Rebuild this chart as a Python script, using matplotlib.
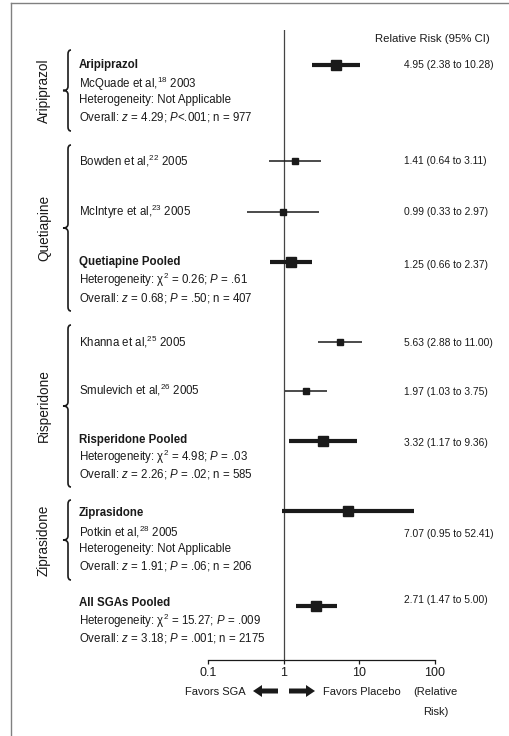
import matplotlib
matplotlib.use("Agg")
import matplotlib.pyplot as plt
from matplotlib import font_manager
from matplotlib.path import Path
from matplotlib.patches import PathPatch, FancyArrow

# ---------------- data ----------------
groups = ["Aripiprazol", "Quetiapine", "Risperidone", "Ziprasidone"]
rr = [4.95, 1.41, 0.99, 1.25, 5.63, 1.97, 3.32, 7.07, 2.71]
ci_lo = [2.38, 0.64, 0.33, 0.66, 2.88, 1.03, 1.17, 0.95, 1.47]
ci_hi = [10.28, 3.11, 2.97, 2.37, 11.00, 3.75, 9.36, 52.41, 5.00]
is_pooled = [True, False, False, True, False, False, True, True, True]
value_labels = ["4.95 (2.38 to 10.28)", "1.41 (0.64 to 3.11)", "0.99 (0.33 to 2.97)",
                "1.25 (0.66 to 2.37)", "5.63 (2.88 to 11.00)", "1.97 (1.03 to 3.75)",
                "3.32 (1.17 to 9.36)", "7.07 (0.95 to 52.41)", "2.71 (1.47 to 5.00)"]
tick_values = [0.1, 1, 10, 100]
tick_labels = ["0.1", "1", "10", "100"]

left_lines = [
    ("Aripiprazol", True),
    ("McQuade et al,$^{18}$ 2003", False),
    ("Heterogeneity: Not Applicable", False),
    ("Overall: $z$ = 4.29; $P$<.001; n = 977", False),
    ("Bowden et al,$^{22}$ 2005", False),
    ("McIntyre et al,$^{23}$ 2005", False),
    ("Quetiapine Pooled", True),
    ("Heterogeneity: \u03c7$^{2}$ = 0.26; $P$ = .61", False),
    ("Overall: $z$ = 0.68; $P$ = .50; n = 407", False),
    ("Khanna et al,$^{25}$ 2005", False),
    ("Smulevich et al,$^{26}$ 2005", False),
    ("Risperidone Pooled", True),
    ("Heterogeneity: \u03c7$^{2}$ = 4.98; $P$ = .03", False),
    ("Overall: $z$ = 2.26; $P$ = .02; n = 585", False),
    ("Ziprasidone", True),
    ("Potkin et al,$^{28}$ 2005", False),
    ("Heterogeneity: Not Applicable", False),
    ("Overall: $z$ = 1.91; $P$ = .06; n = 206", False),
    ("All SGAs Pooled", True),
    ("Heterogeneity: \u03c7$^{2}$ = 15.27; $P$ = .009", False),
    ("Overall: $z$ = 3.18; $P$ = .001; n = 2175", False),
]

# ---------------- layout (pixel positions) ----------------
W, H = 509, 736
row_y = [65, 161, 212, 262, 342, 391, 441, 511, 606]
value_y = [65, 161, 212, 265, 343, 392, 443, 534, 600]
line_y = [65, 84, 100, 117, 161, 212, 262, 280, 298, 342, 390, 440, 457, 474,
          513, 532, 549, 566, 603, 621, 638]
brace_spans = [(50, 131), (145, 311), (325, 487), (500, 580)]
group_label_y = [91, 228, 406, 540]

# ---------------- fonts ----------------
def pick(names):
    for n in names:
        try:
            font_manager.findfont(n, fallback_to_default=False)
            return n
        except Exception:
            continue
    return "DejaVu Sans"

fam = pick(["Liberation Sans Narrow", "Liberation Sans", "DejaVu Sans"])
plt.rcParams["font.family"] = [fam, "DejaVu Sans"]
plt.rcParams["mathtext.fontset"] = "custom"
plt.rcParams["mathtext.rm"] = fam
plt.rcParams["mathtext.it"] = fam + ":italic"
plt.rcParams["mathtext.bf"] = fam + ":bold"

ink = "#1a1a1a"
fig = plt.figure(figsize=(W / 100, H / 100), dpi=100)
fig.patch.set_facecolor("white")

bg = fig.add_axes([0, 0, 1, 1])
bg.set_xlim(0, W)
bg.set_ylim(H, 0)
bg.axis("off")

# frame (left and top)
bg.plot([11, 11], [3, H], color="#808080", lw=1.0)
bg.plot([11, W], [3, 3], color="#808080", lw=1.0)

# forest axes
x0, x1, ytop, ybot = 208, 435, 30, 660
ax = fig.add_axes([x0 / W, 1 - ybot / H, (x1 - x0) / W, (ybot - ytop) / H])
ax.set_xscale("log")
ax.set_xlim(0.1, 100)
ax.set_ylim(ybot, ytop)
ax.patch.set_alpha(0)
for s in ["top", "right", "left"]:
    ax.spines[s].set_visible(False)
ax.spines["bottom"].set_color(ink)
ax.spines["bottom"].set_linewidth(0.9)
ax.set_yticks([])
ax.set_xticks(tick_values)
ax.set_xticklabels(tick_labels, fontsize=9)
ax.minorticks_off()
ax.tick_params(axis="x", direction="out", length=3, width=0.9, colors=ink, pad=2)
ax.axvline(1, color="#444444", lw=0.9, zorder=1)

for v, lo, hi, y, p in zip(rr, ci_lo, ci_hi, row_y, is_pooled):
    ax.plot([lo, hi], [y, y], color=ink, lw=3.0 if p else 1.1, solid_capstyle="butt", zorder=3)
    ax.plot([v], [y], marker="s", color=ink, markersize=7.2 if p else 5.0, zorder=4)

# value labels
bg.text(432, 39, "Relative Risk (95% CI)", fontsize=8.2, ha="center", va="center", color=ink)
for lab, y in zip(value_labels, value_y):
    bg.text(404, y, lab, fontsize=7.4, ha="left", va="center", color=ink)

# left texts
for (txt, bold), y in zip(left_lines, line_y):
    bg.text(79, y, txt, fontsize=8.3, ha="left", va="center", color=ink,
            fontweight="bold" if bold else "normal")

# braces
def brace(x, ya, yb, w=5, r=4):
    ym = (ya + yb) / 2
    verts = [(x + 3, ya), (x, ya), (x, ya + r),
             (x, ym - r),
             (x, ym), (x - w, ym),
             (x, ym), (x, ym + r),
             (x, yb - r),
             (x, yb), (x + 3, yb)]
    codes = [Path.MOVETO, Path.CURVE3, Path.CURVE3,
             Path.LINETO,
             Path.CURVE3, Path.CURVE3,
             Path.CURVE3, Path.CURVE3,
             Path.LINETO,
             Path.CURVE3, Path.CURVE3]
    bg.add_patch(PathPatch(Path(verts, codes), fill=False, lw=1.2, color=ink))

for (ya, yb), g, gy in zip(brace_spans, groups, group_label_y):
    brace(68, ya, yb)
    bg.text(44, gy, g, rotation=90, fontsize=9.8, ha="center", va="center", color=ink)

# bottom annotations
bg.text(246, 692, "Favors SGA", fontsize=8, ha="right", va="center", color=ink)
bg.text(323, 692, "Favors Placebo", fontsize=8, ha="left", va="center", color=ink)
bg.text(458, 692, "(Relative", fontsize=8, ha="right", va="center", color=ink)
bg.text(449, 712, "Risk)", fontsize=8, ha="right", va="center", color=ink)
bg.add_patch(FancyArrow(278, 691, -25, 0, width=5, head_width=12, head_length=9,
                        length_includes_head=True, color=ink, lw=0))
bg.add_patch(FancyArrow(289, 691, 26, 0, width=5, head_width=12, head_length=9,
                        length_includes_head=True, color=ink, lw=0))

fig.savefig("out.png", dpi=100)
